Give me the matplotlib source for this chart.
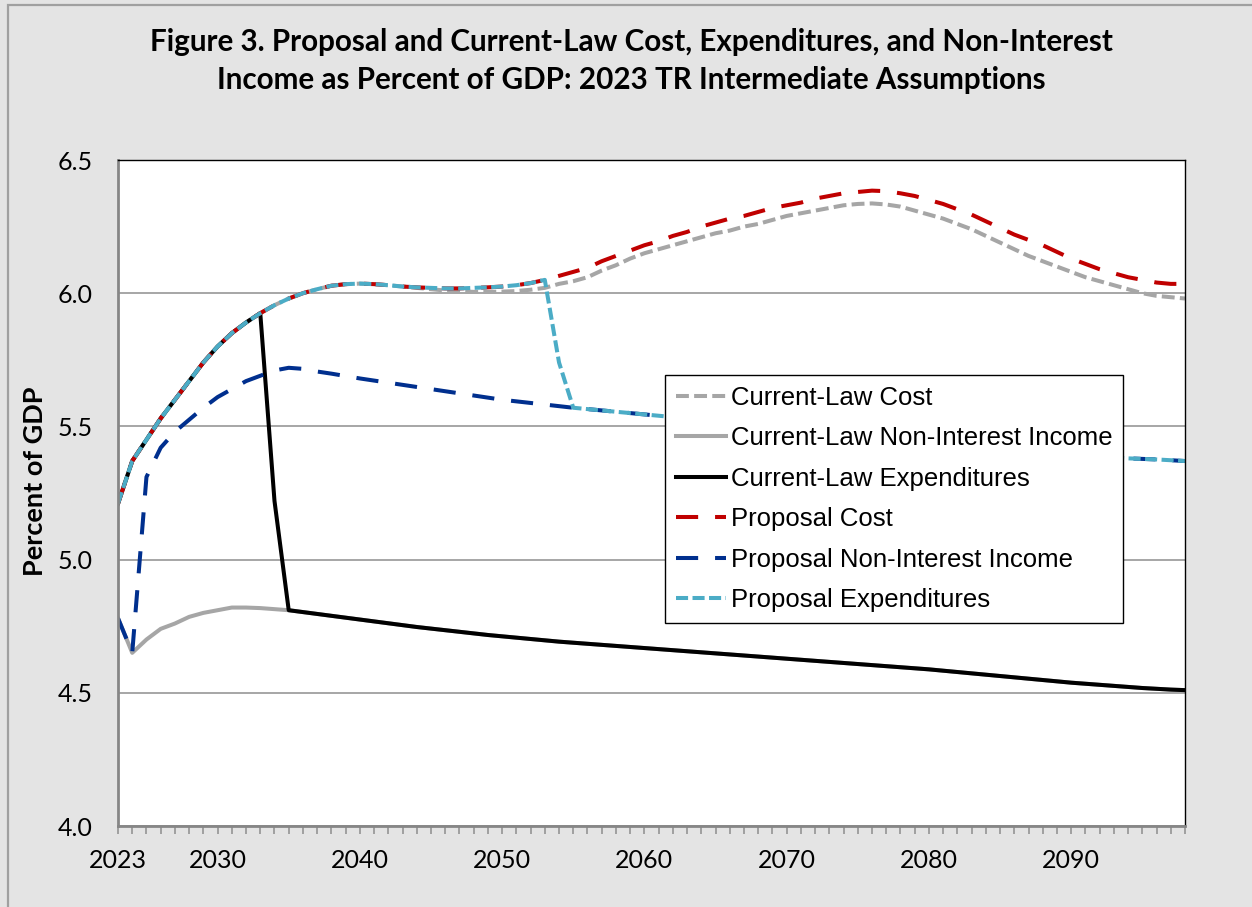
import numpy as np
import matplotlib
matplotlib.use('Agg')
import matplotlib.pyplot as plt
from matplotlib.patches import Rectangle
from matplotlib.ticker import FixedLocator, MultipleLocator

# ============================================================
# Data (percent of GDP), years 2023-2098
# ============================================================
years = list(range(2023, 2099))

cl_cost = [
    5.21, 5.37, 5.45, 5.53, 5.60, 5.67, 5.74, 5.80, 5.85, 5.89,    # 2023-2032
    5.925, 5.955, 5.98, 6.00, 6.015, 6.028, 6.034, 6.036, 6.034, 6.03,  # 2033-2042
    6.025, 6.02, 6.015, 6.01, 6.007, 6.005, 6.005, 6.006, 6.008, 6.013,  # 2043-2052
    6.02, 6.035, 6.045, 6.06, 6.085, 6.105, 6.13, 6.15, 6.165, 6.18,   # 2053-2062
    6.195, 6.21, 6.225, 6.235, 6.25, 6.26, 6.275, 6.29, 6.30, 6.31,    # 2063-2072
    6.32, 6.33, 6.335, 6.337, 6.333, 6.325, 6.31, 6.295, 6.28, 6.26,   # 2073-2082
    6.24, 6.215, 6.19, 6.165, 6.14, 6.12, 6.10, 6.08, 6.06, 6.045,     # 2083-2092
    6.03, 6.015, 6.00, 5.99, 5.985, 5.98,                              # 2093-2098
]

cl_income = [
    4.78, 4.65, 4.70, 4.74, 4.76, 4.785, 4.80, 4.81, 4.82, 4.82,      # 2023-2032
    4.818, 4.814, 4.81, 4.803, 4.796, 4.789, 4.782, 4.775, 4.768, 4.761,
    4.754, 4.747, 4.741, 4.735, 4.729, 4.723, 4.717, 4.712, 4.707, 4.702,
    4.697, 4.692, 4.688, 4.684, 4.680, 4.676, 4.672, 4.668, 4.664, 4.660,
    4.656, 4.652, 4.648, 4.644, 4.640, 4.636, 4.632, 4.628, 4.624, 4.620,
    4.616, 4.612, 4.608, 4.604, 4.600, 4.596, 4.592, 4.588, 4.583, 4.578,
    4.573, 4.568, 4.563, 4.558, 4.553, 4.548, 4.543, 4.538, 4.534, 4.530,
    4.526, 4.522, 4.518, 4.515, 4.512, 4.510,
]

# proposal cost: same as current law through 2043, then above it
prop_cost_tail = [
    6.022, 6.02, 6.018, 6.018, 6.02, 6.022, 6.025, 6.03, 6.038,       # 2044-2052
    6.05, 6.065, 6.08, 6.095, 6.12, 6.14, 6.16, 6.18, 6.195, 6.215,   # 2053-2062
    6.23, 6.25, 6.265, 6.28, 6.29, 6.305, 6.32, 6.33, 6.34, 6.355,    # 2063-2072
    6.365, 6.375, 6.38, 6.385, 6.383, 6.375, 6.365, 6.35, 6.335, 6.315,
    6.295, 6.27, 6.245, 6.22, 6.20, 6.18, 6.155, 6.13, 6.11, 6.09,
    6.075, 6.06, 6.05, 6.04, 6.035, 6.035,
]

prop_income = [
    4.78, 4.65, 5.31, 5.42, 5.48, 5.525, 5.57, 5.61, 5.64, 5.67,      # 2023-2032
    5.69, 5.71, 5.72, 5.716, 5.706, 5.698, 5.689, 5.68, 5.672, 5.664,
    5.656, 5.648, 5.64, 5.632, 5.624, 5.616, 5.608, 5.60, 5.594, 5.588,
    5.582, 5.576, 5.57, 5.565, 5.56, 5.555, 5.55, 5.545, 5.54, 5.535,
    5.53, 5.525, 5.52, 5.515, 5.51, 5.505, 5.50, 5.495, 5.49, 5.485,
    5.48, 5.475, 5.47, 5.465, 5.46, 5.455, 5.45, 5.445, 5.44, 5.435,
    5.43, 5.425, 5.42, 5.415, 5.41, 5.405, 5.40, 5.395, 5.39, 5.386,
    5.383, 5.38, 5.378, 5.376, 5.373, 5.37,
]

CL_DEPLETION_YEAR   = 2034   # expenditures drop to income
CL_DROP_VALUE       = 5.22
PROP_DEPLETION_YEAR = 2054
PROP_DROP_VALUE     = 5.74

prop_cost = cl_cost[:2044 - 2023] + prop_cost_tail

i = CL_DEPLETION_YEAR - 2023
cl_exp = cl_cost[:i] + [CL_DROP_VALUE] + cl_income[i + 1:]
j = PROP_DEPLETION_YEAR - 2023
prop_exp = prop_cost[:j] + [PROP_DROP_VALUE] + prop_income[j + 1:]

labels = ['Current-Law Cost', 'Current-Law Non-Interest Income',
          'Current-Law Expenditures', 'Proposal Cost',
          'Proposal Non-Interest Income', 'Proposal Expenditures']

x_labels = [2023, 2030, 2040, 2050, 2060, 2070, 2080, 2090]

# ============================================================
# Figure
# ============================================================
BG = '#E4E4E4'
fig = plt.figure(figsize=(12.52, 9.07), dpi=100, facecolor=BG)
ax = fig.add_axes([118 / 1252, 1 - 826 / 907, 1067 / 1252, 666 / 907])
ax.set_facecolor('white')

# outer chart border (only left/top edge visible in the crop)
fig.patches.append(Rectangle((8 / 1252, -0.05), 1.2, 1 - 5 / 907 + 0.05,
                             transform=fig.transFigure, fill=False,
                             edgecolor='#A0A0A0', linewidth=1.6, zorder=0))

lw = 2.9
ax.plot(years, cl_cost,     color='#A6A6A6', lw=lw, linestyle=(0, (3.2, 1.3)), label=labels[0])
ax.plot(years, cl_income,   color='#A6A6A6', lw=lw, linestyle='-', label=labels[1])
ax.plot(years, cl_exp,      color='black',   lw=lw, linestyle='-', label=labels[2])
ax.plot(years, prop_cost,   color='#C00000', lw=lw, linestyle=(0, (5.5, 4.2)), label=labels[3])
ax.plot(years, prop_income, color='#002F8E', lw=lw, linestyle=(0, (5.5, 4.2)), label=labels[4])
ax.plot(years, prop_exp,    color='#4BACC6', lw=lw, linestyle=(0, (3.0, 1.1)), label=labels[5])

ax.set_xlim(2023, 2098)
ax.set_ylim(4.0, 6.5)
ax.set_yticks(np.arange(4.0, 6.51, 0.5))
ax.set_yticklabels([f'{v:.1f}' for v in np.arange(4.0, 6.51, 0.5)])
ax.xaxis.set_major_locator(FixedLocator(x_labels))
ax.xaxis.set_minor_locator(MultipleLocator(1))
ax.set_xticklabels([str(y) for y in x_labels])

ax.grid(axis='y', color='#A6A6A6', linewidth=1.4)
ax.set_axisbelow(True)

for side in ['left', 'bottom']:
    ax.spines[side].set_color('#868686')
    ax.spines[side].set_linewidth(2.0)
for side in ['top', 'right']:
    ax.spines[side].set_color('black')
    ax.spines[side].set_linewidth(1.0)

tick_font = 'Lato'
ax.tick_params(axis='y', length=0, pad=18, labelsize=18, labelcolor='black')
ax.tick_params(axis='x', which='both', direction='out', length=5.5,
               width=1.4, color='#A0A0A0', pad=11, labelsize=18)
for lab in ax.get_xticklabels() + ax.get_yticklabels():
    lab.set_fontfamily(tick_font)

leg = ax.legend(loc='upper left', bbox_to_anchor=(547 / 1067, 451 / 666),
                borderaxespad=0, frameon=True, fancybox=False,
                edgecolor='black', framealpha=1, handlelength=1.95,
                handletextpad=0.2, labelspacing=0.64, borderpad=0.42,
                prop={'family': 'Liberation Sans', 'size': 18.5})
leg.get_frame().set_linewidth(1.0)

fig.text(631 / 1252, 1 - 61 / 907,
         'Figure 3. Proposal and Current-Law Cost, Expenditures, and Non-Interest\n'
         'Income as Percent of GDP: 2023 TR Intermediate Assumptions',
         ha='center', va='center', fontsize=21.3, fontweight='bold',
         family='Lato', linespacing=1.4)

fig.text(35 / 1252, 1 - 481 / 907, 'Percent of GDP', rotation=90,
         ha='center', va='center', fontsize=19.5, fontweight='bold', family='Lato')

fig.savefig('out.png', dpi=100, facecolor=BG)
